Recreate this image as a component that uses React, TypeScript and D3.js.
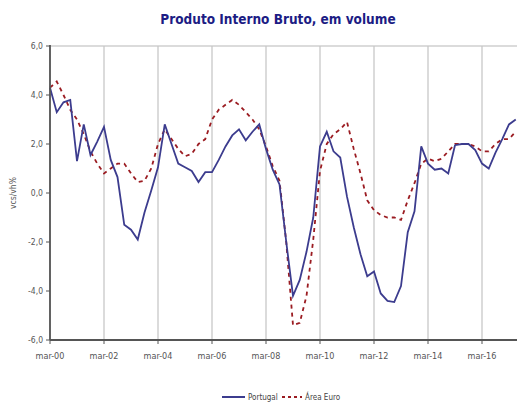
import React from "react";
import * as d3 from "d3";

const tickLabels = ["mar-00", "mar-02", "mar-04", "mar-06", "mar-08", "mar-10", "mar-12", "mar-14", "mar-16"];
const yTicks = [6, 4, 2, 0, -2, -4, -6];

const portugal = [
  4.3, 3.3, 3.7, 3.8, 1.3, 2.8, 1.55, 2.1, 2.7, 1.35,
  0.65, -1.3, -1.5, -1.9, -0.8, 0.1, 1.05, 2.8, 2.0, 1.2,
  1.05, 0.9, 0.45, 0.85, 0.85, 1.35, 1.9, 2.35, 2.6, 2.15,
  2.5, 2.8, 1.8, 0.95, 0.35, -2.0, -4.2, -3.55, -2.4, -1.0,
  1.9, 2.5, 1.7, 1.45, -0.15, -1.4, -2.5, -3.4, -3.2, -4.1,
  -4.4, -4.45, -3.8, -1.6, -0.75, 1.9, 1.2, 0.95, 1.0, 0.8,
  1.95, 2.0, 2.0, 1.75, 1.2, 1.0, 1.65, 2.2, 2.8, 3.0,
];

const euroArea = [
  4.3, 4.55, 4.0, 3.4, 3.0, 2.4, 1.7, 1.2, 0.8, 1.0,
  1.2, 1.2, 0.8, 0.45, 0.5, 1.0, 2.0, 2.6, 2.2, 1.8,
  1.5, 1.6, 2.0, 2.2, 3.0, 3.4, 3.6, 3.8, 3.6, 3.3,
  3.0, 2.6, 1.9, 1.1, 0.5, -2.0, -5.4, -5.3, -4.2, -1.9,
  0.9, 2.0, 2.4, 2.6, 2.9, 1.8, 0.8, -0.3, -0.7, -0.9,
  -1.0, -1.0, -1.1, -0.3, 0.4, 1.2, 1.4, 1.3, 1.4, 1.7,
  2.0, 2.0, 2.0, 1.9, 1.7, 1.7, 2.0, 2.2, 2.2, 2.5,
];

const seriesNames = ["Portugal", "Área Euro"];

export default function App() {
  const W = 517, H = 405;
  const left = 50, right = 517, top = 46, bottom = 340;
  const x = d3.scaleLinear().domain([0, 69]).range([left, left + 69 * 6.75]);
  const y = d3.scaleLinear().domain([-6, 6]).range([bottom, top]);
  const line = d3.line<number>().x((_, i) => x(i)).y((d) => y(d));
  const font = "'DejaVu Sans Condensed', 'DejaVu Sans', sans-serif";

  return (
    <svg width={W} height={H} style={{ position: "absolute", left: 0, top: 0, background: "#fff" }}>
      <text x={278} y={24} textAnchor="middle" fontFamily={font} fontWeight="bold" fontSize={13.5} fill="#1c1c84">
        Produto Interno Bruto, em volume
      </text>
      {/* top border */}
      <line x1={left} x2={right} y1={top} y2={top} stroke="#cfcfcf" strokeWidth={1.5} />
      {/* vertical grid */}
      {tickLabels.map((t, k) => (
        <line key={t} x1={x(k * 8)} x2={x(k * 8)} y1={top} y2={bottom} stroke="#c8c8c8" strokeWidth={1.3} />
      ))}
      {/* series */}
      <path d={line(euroArea) || ""} fill="none" stroke="#9b1c22" strokeWidth={1.8} strokeDasharray="4,4" />
      <path d={line(portugal) || ""} fill="none" stroke="#3c3c8e" strokeWidth={1.8} />
      {/* axes */}
      <line x1={left} x2={left} y1={top - 1} y2={bottom} stroke="#555" strokeWidth={1.8} />
      <line x1={left} x2={right} y1={bottom} y2={bottom} stroke="#555" strokeWidth={1.8} />
      {yTicks.map((v) => (
        <g key={v}>
          <line x1={left - 4} x2={left} y1={y(v)} y2={y(v)} stroke="#555" strokeWidth={1} />
          <text x={left - 7} y={y(v) + 3} textAnchor="end" fontFamily={font} fontSize={8.5} fill="#555">
            {v.toFixed(1).replace(".", ",").replace("-", "-")}
          </text>
        </g>
      ))}
      {tickLabels.map((t, k) => (
        <g key={t}>
          <line x1={x(k * 8)} x2={x(k * 8)} y1={bottom} y2={bottom + 4} stroke="#555" strokeWidth={1} />
          <text x={x(k * 8)} y={bottom + 19} textAnchor="middle" fontFamily={font} fontSize={9} fill="#555">
            {t}
          </text>
        </g>
      ))}
      <text transform={`translate(16,${(top + bottom) / 2}) rotate(-90)`} textAnchor="middle" fontFamily={font} fontSize={8.5} fill="#555">
        vcs/vh%
      </text>
      {/* legend */}
      <line x1={222} x2={245} y1={397} y2={397} stroke="#3c3c8e" strokeWidth={2} />
      <text x={248} y={400} fontFamily={font} fontSize={8} fill="#444">{seriesNames[0]}</text>
      <line x1={282} x2={302} y1={397} y2={397} stroke="#9b1c22" strokeWidth={2} strokeDasharray="3,3" />
      <text x={305} y={400} fontFamily={font} fontSize={8} fill="#444">{seriesNames[1]}</text>
    </svg>
  );
}
